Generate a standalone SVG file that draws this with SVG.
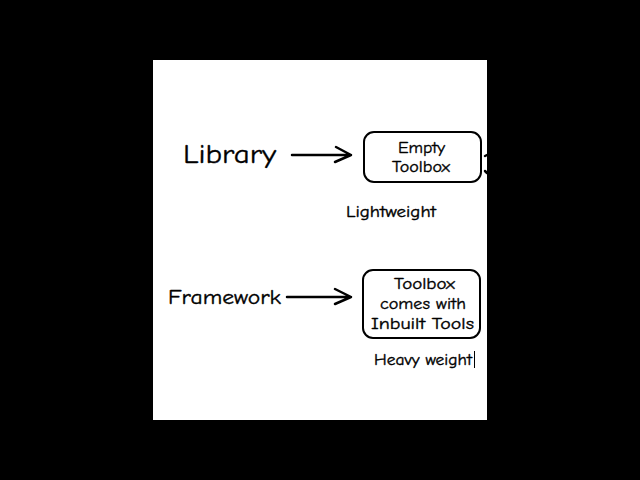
<svg xmlns="http://www.w3.org/2000/svg" width="640" height="480" viewBox="0 0 640 480">
<style>
.t{font-family:"Comic Neue","Liberation Sans","DejaVu Sans",sans-serif;fill:#000000;stroke:#000000;stroke-width:0.35}
.b{font-size:16px}
.box{fill:#ffffff;stroke:#000000;stroke-width:2}
.ln{fill:none;stroke:#000000;stroke-width:2.5;stroke-linecap:round;stroke-linejoin:round}
</style>
<rect x="0" y="0" width="640" height="480" fill="#000000"/>
<rect x="153" y="60" width="334" height="360" fill="#ffffff"/>
<g id="library">
<text class="t" x="183" y="163" font-size="27" stroke-width="0.7" textLength="93" lengthAdjust="spacingAndGlyphs">Library</text>
</g>
<g id="empty-toolbox">
<rect class="box" x="364" y="132" width="117" height="50" rx="10"/>
<text class="t b" x="398" y="153" textLength="47" lengthAdjust="spacingAndGlyphs">Empty</text>
<text class="t b" x="392" y="172" textLength="58" lengthAdjust="spacingAndGlyphs">Toolbox</text>
</g>
<g id="lightweight">
<text class="t" x="346" y="217" font-size="15" textLength="90" lengthAdjust="spacingAndGlyphs">Lightweight</text>
</g>
<g id="framework">
<text class="t" x="168" y="304" font-size="20" stroke-width="0.5" textLength="113" lengthAdjust="spacingAndGlyphs">Framework</text>
</g>
<g id="toolbox-inbuilt">
<rect class="box" x="363" y="270" width="117" height="68" rx="10"/>
<text class="t b" x="394" y="289" textLength="61" lengthAdjust="spacingAndGlyphs">Toolbox</text>
<text class="t b" x="380" y="309" textLength="86" lengthAdjust="spacingAndGlyphs">comes with</text>
<text class="t b" x="371" y="329" textLength="103" lengthAdjust="spacingAndGlyphs">Inbuilt Tools</text>
</g>
<g id="heavyweight">
<text class="t" x="374" y="365" font-size="15" textLength="98" lengthAdjust="spacingAndGlyphs">Heavy weight</text>
<line x1="474.5" y1="351" x2="474.5" y2="368" stroke="#000000" stroke-width="1"/>
</g>
<g id="connectors">
<path class="ln" d="M292 155 L351 155 M336 147 L351 155 L335 162"/>
<path class="ln" d="M287 297 L351 297 M335 289 L351 297 L335 304"/>
<path class="ln" d="M485 156 L487 155 M485 171 L487 173" stroke-width="1.5"/>
</g>
</svg>
